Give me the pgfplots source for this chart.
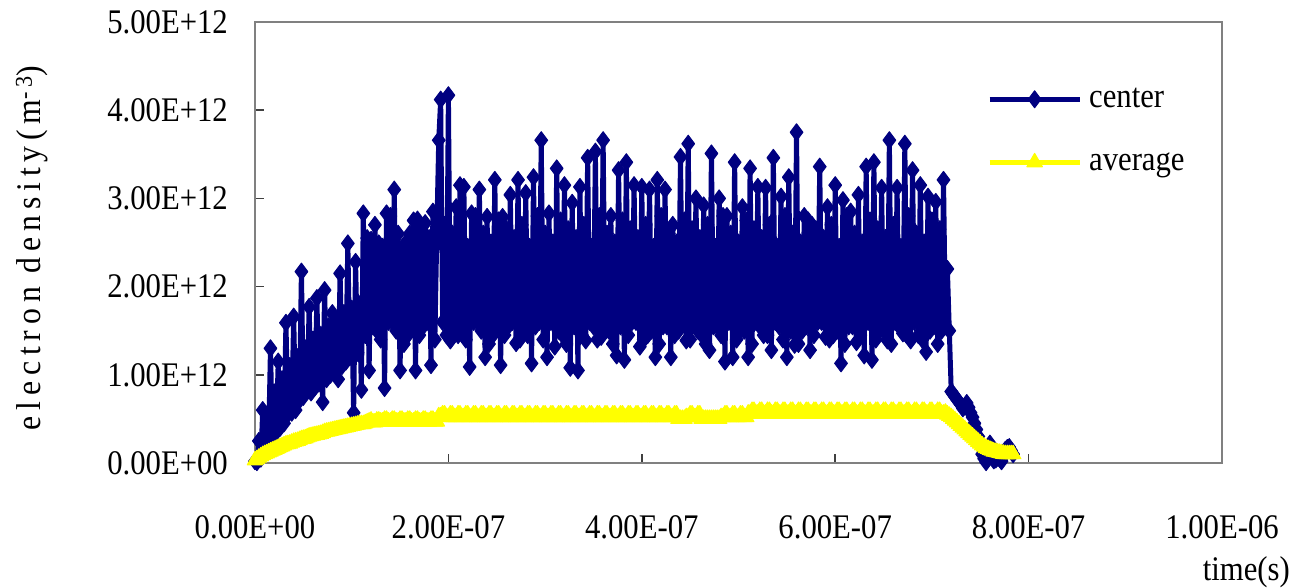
\documentclass[border=0pt]{standalone}
\usepackage{pgfplots}
\pgfplotsset{compat=1.18}
\usepackage{pgfplotstable}
\usepackage{fontspec}
\setmainfont{Liberation Serif}[FakeStretch=0.89]
\newfontfamily\ylabfont{Liberation Serif}[FakeStretch=0.92, LetterSpace=17]
\definecolor{centerblue}{RGB}{0,0,128}
\definecolor{avgyellow}{RGB}{255,255,0}
\definecolor{framegray}{RGB}{128,128,128}

% t in ns, densities in 1e12 m^-3
\pgfplotstableread{
t c a
0 0.02 0.03
2 0.01 0.045
4 0.25 0.06
6 0.05 0.075
8 0.60 0.09
10 0.15 0.10
12 0.55 0.11
14 0.20 0.12
16 1.30 0.13
18 0.30 0.14
20 0.80 0.15
22 0.35 0.16
24 1.15 0.17
26 0.40 0.18
28 0.95 0.19
30 0.45 0.20
32 1.59 0.21
34 0.55 0.215
36 1.10 0.22
38 0.57 0.23
40 1.66 0.24
42 0.60 0.245
44 1.20 0.25
46 0.71 0.26
48 2.17 0.27
50 0.75 0.275
52 1.30 0.28
54 0.85 0.29
56 1.77 0.30
58 0.80 0.305
60 1.40 0.31
62 0.86 0.315
64 1.87 0.32
66 0.90 0.325
68 1.45 0.33
70 0.69 0.34
72 1.96 0.35
74 0.95 0.355
76 1.55 0.36
78 1.00 0.365
80 1.70 0.37
82 1.05 0.375
84 1.60 0.38
86 0.95 0.385
88 2.15 0.39
90 1.10 0.395
92 1.70 0.40
94 1.15 0.405
96 2.49 0.41
98 1.20 0.415
100 1.75 0.42
102 0.57 0.425
104 2.28 0.43
106 1.25 0.435
108 1.80 0.44
110 0.83 0.44
112 2.83 0.44
114 1.45 0.45
116 2.55 0.46
118 1.05 0.47
120 2.53 0.48
122 1.55 0.46
124 2.70 0.46
126 1.50 0.48
128 2.49 0.48
130 1.40 0.47
132 2.45 0.47
134 0.85 0.49
136 2.83 0.49
138 1.60 0.47
140 2.80 0.47
142 1.60 0.49
144 3.10 0.49
146 1.50 0.47
148 2.60 0.47
150 1.05 0.49
152 2.40 0.49
154 1.35 0.47
156 2.50 0.47
158 1.45 0.49
160 2.60 0.49
162 1.55 0.47
164 2.75 0.47
166 1.05 0.49
168 2.76 0.49
170 1.45 0.47
172 2.65 0.47
174 1.55 0.49
176 2.72 0.49
178 1.60 0.47
180 2.55 0.47
182 1.11 0.49
184 2.85 0.49
186 1.40 0.47
188 2.60 0.47
190 3.66 0.53
192 4.12 0.53
194 1.60 0.55
196 2.70 0.55
198 1.45 0.52
200 4.17 0.52
202 1.39 0.55
204 2.60 0.55
206 1.50 0.52
208 2.90 0.52
210 1.45 0.55
212 3.15 0.55
214 1.55 0.52
216 3.13 0.52
218 1.40 0.55
220 2.45 0.55
222 1.09 0.52
224 2.83 0.52
226 1.60 0.55
228 2.80 0.55
230 1.60 0.52
232 3.10 0.52
234 1.50 0.55
236 2.60 0.55
238 1.20 0.52
240 2.79 0.52
242 1.35 0.55
244 2.50 0.55
246 1.45 0.52
248 3.21 0.52
250 1.55 0.55
252 2.75 0.55
254 1.11 0.52
256 2.79 0.52
258 1.45 0.55
260 2.65 0.55
262 1.55 0.52
264 3.04 0.52
266 1.60 0.55
268 2.55 0.55
270 1.36 0.52
272 3.21 0.52
274 1.40 0.55
276 2.70 0.55
278 1.50 0.52
280 3.06 0.52
282 1.45 0.55
284 2.45 0.55
286 1.13 0.52
288 3.24 0.52
290 1.55 0.55
292 2.80 0.55
294 1.60 0.52
296 3.66 0.52
298 1.40 0.55
300 2.60 0.55
302 1.20 0.52
304 2.83 0.52
306 1.60 0.55
308 2.50 0.55
310 1.32 0.52
312 3.34 0.52
314 1.50 0.55
316 2.75 0.55
318 1.45 0.52
320 3.15 0.52
322 1.35 0.55
324 2.65 0.55
326 1.08 0.52
328 2.95 0.52
330 1.55 0.55
332 2.55 0.55
334 1.05 0.52
336 3.13 0.52
338 1.45 0.55
340 2.70 0.55
342 1.39 0.52
344 3.46 0.52
346 1.60 0.55
348 2.45 0.55
350 1.55 0.52
352 3.53 0.52
354 1.40 0.55
356 2.80 0.55
358 1.43 0.52
360 3.66 0.52
362 1.50 0.55
364 2.60 0.55
366 1.50 0.52
368 2.80 0.52
370 1.35 0.55
372 2.50 0.55
374 1.22 0.52
376 3.32 0.52
378 1.55 0.55
380 2.75 0.55
382 1.17 0.52
384 3.41 0.52
386 1.45 0.55
388 2.65 0.55
390 1.60 0.52
392 3.15 0.52
394 1.60 0.55
396 2.55 0.55
398 1.32 0.52
400 3.13 0.52
402 1.40 0.55
404 2.70 0.55
406 1.45 0.52
408 3.10 0.52
410 1.50 0.55
412 2.45 0.55
414 1.20 0.52
416 3.21 0.52
418 1.35 0.55
420 2.80 0.55
422 1.55 0.52
424 3.10 0.52
426 1.55 0.55
428 2.60 0.55
430 1.20 0.52
432 2.70 0.52
434 1.45 0.55
436 2.50 0.55
438 1.50 0.50
440 3.47 0.50
442 1.60 0.50
444 2.75 0.50
446 1.39 0.52
448 3.62 0.52
450 1.40 0.55
452 2.65 0.55
454 1.60 0.52
456 3.00 0.52
458 1.50 0.55
460 2.55 0.55
462 1.45 0.50
464 2.92 0.50
466 1.35 0.50
468 2.70 0.50
470 1.28 0.50
472 3.51 0.50
474 1.55 0.50
476 2.45 0.50
478 1.55 0.50
480 3.00 0.50
482 1.45 0.52
484 2.80 0.52
486 1.15 0.55
488 2.80 0.55
490 1.60 0.52
492 2.60 0.52
494 1.20 0.55
496 3.41 0.55
498 1.40 0.52
500 2.50 0.52
502 1.50 0.55
504 2.90 0.55
506 1.50 0.52
508 2.75 0.52
510 1.20 0.56
512 3.34 0.56
514 1.35 0.59
516 2.65 0.59
518 1.60 0.56
520 3.13 0.56
522 1.55 0.59
524 2.55 0.59
526 1.45 0.56
528 3.12 0.56
530 1.45 0.59
532 2.70 0.59
534 1.28 0.56
536 3.46 0.56
538 1.60 0.59
540 2.45 0.59
542 1.55 0.56
544 3.02 0.56
546 1.40 0.59
548 2.80 0.59
550 1.20 0.56
552 3.24 0.56
554 1.50 0.59
556 2.60 0.59
558 1.34 0.56
560 3.75 0.56
562 1.35 0.59
564 2.50 0.59
566 1.50 0.56
568 2.80 0.56
570 1.55 0.59
572 2.75 0.59
574 1.28 0.56
576 2.70 0.56
578 1.45 0.59
580 2.65 0.59
582 1.60 0.56
584 3.36 0.56
586 1.60 0.59
588 2.55 0.59
590 1.43 0.56
592 2.90 0.56
594 1.40 0.59
596 2.70 0.59
598 1.45 0.56
600 3.15 0.56
602 1.50 0.59
604 2.45 0.59
606 1.13 0.56
608 2.98 0.56
610 1.35 0.59
612 2.80 0.59
614 1.55 0.56
616 2.85 0.56
618 1.55 0.59
620 2.60 0.59
622 1.37 0.56
624 3.04 0.56
626 1.45 0.59
628 2.50 0.59
630 1.22 0.56
632 3.36 0.56
634 1.60 0.59
636 2.75 0.59
638 1.17 0.56
640 3.41 0.56
642 1.40 0.59
644 2.65 0.59
646 1.50 0.56
648 3.12 0.56
650 1.50 0.59
652 2.55 0.59
654 1.39 0.56
656 3.66 0.56
658 1.35 0.59
660 2.70 0.59
662 1.60 0.56
664 3.12 0.56
666 1.55 0.59
668 2.45 0.59
670 1.47 0.56
672 3.62 0.56
674 1.45 0.59
676 2.80 0.59
678 1.39 0.56
680 3.32 0.56
682 1.60 0.59
684 2.60 0.59
686 1.45 0.56
688 3.15 0.56
690 1.40 0.59
692 2.50 0.59
694 1.26 0.56
696 3.02 0.56
698 1.50 0.59
700 2.75 0.59
702 1.55 0.56
704 2.96 0.56
706 1.35 0.59
708 2.65 0.59
710 1.50 0.56
712 3.21 0.56
714 1.55 0.57
716 2.20 0.55
718 1.50 0.535
720 0.81 0.52
722 0.78 0.50
724 0.75 0.48
726 0.72 0.46
728 0.69 0.44
730 0.66 0.42
732 0.62 0.40
734 0.64 0.38
736 0.68 0.36
738 0.63 0.34
740 0.57 0.32
742 0.52 0.30
744 0.45 0.28
746 0.38 0.26
748 0.30 0.24
750 0.20 0.22
752 0.10 0.20
754 0.05 0.185
756 0.01 0.17
758 0.10 0.16
760 0.22 0.15
762 0.12 0.14
764 0.03 0.13
766 0.04 0.125
768 0.06 0.12
770 0.05 0.115
772 0.02 0.11
774 0.08 0.105
776 0.15 0.10
778 0.17 0.10
780 0.18 0.10
782 0.14 0.10
784 0.10 0.10
}\density

\begin{document}
\begin{tikzpicture}
\useasboundingbox (0pt,0pt) rectangle (1297pt,-587pt);
\begin{axis}[
  at={(255pt,-463pt)}, anchor=south west,
  scale only axis, width=967pt, height=441pt,
  xmin=0, xmax=1000, ymin=0, ymax=5,
  clip=false,
  font=\fontsize{34.5}{38}\selectfont,
  axis line style={draw=framegray, line width=2.5pt},
  tick align=inside,
  xtick pos=left, ytick pos=left,
  major tick length=9pt,
  tick style={draw=black!75, line width=1.6pt},
  xtick={0,200,400,600,800,1000},
  xticklabels={0.00E+00,2.00E-07,4.00E-07,6.00E-07,8.00E-07,1.00E-06},
  ytick={0,1,2,3,4,5},
  yticklabels={0.00E+00,1.00E+12,2.00E+12,3.00E+12,4.00E+12,5.00E+12},
  xticklabel style={anchor=center, inner sep=0pt, yshift=-64pt},
  yticklabel style={anchor=east, inner sep=0pt, xshift=-27pt},
  ylabel={\ylabfont electron density(m\textsuperscript{-3})},
  ylabel style={at={(axis description cs:-0.2306,0.4875)}, anchor=center, inner sep=0pt},
  xlabel={time(s)},
  xlabel style={at={(axis description cs:1.0703,-0.247)}, anchor=east, inner sep=0pt},
  legend style={draw=none, fill=none, inner sep=0pt, at={(axis description cs:0.7569,0.8683)}, anchor=north west,
    row sep=25pt, column sep=4pt,
    nodes={inner sep=3pt, text height=24pt, text depth=8pt}},
  legend cell align=left,
  legend image code/.code={\draw[mark repeat=2,mark phase=2] plot coordinates {(0pt,0pt) (45pt,0pt) (90pt,0pt)};},
]
\addplot[color=centerblue, line width=5pt, line join=round, mark=diamond*, mark size=8.5pt,
  mark options={solid, line width=1pt}] table[x=t,y=c]{\density};
\addlegendentry{center}
\addplot[color=avgyellow, line width=5pt, line join=round, mark=triangle*, mark size=9pt,
  mark options={solid, line width=1pt}] table[x=t,y=a]{\density};
\addlegendentry{average}
\end{axis}
\end{tikzpicture}
\end{document}
